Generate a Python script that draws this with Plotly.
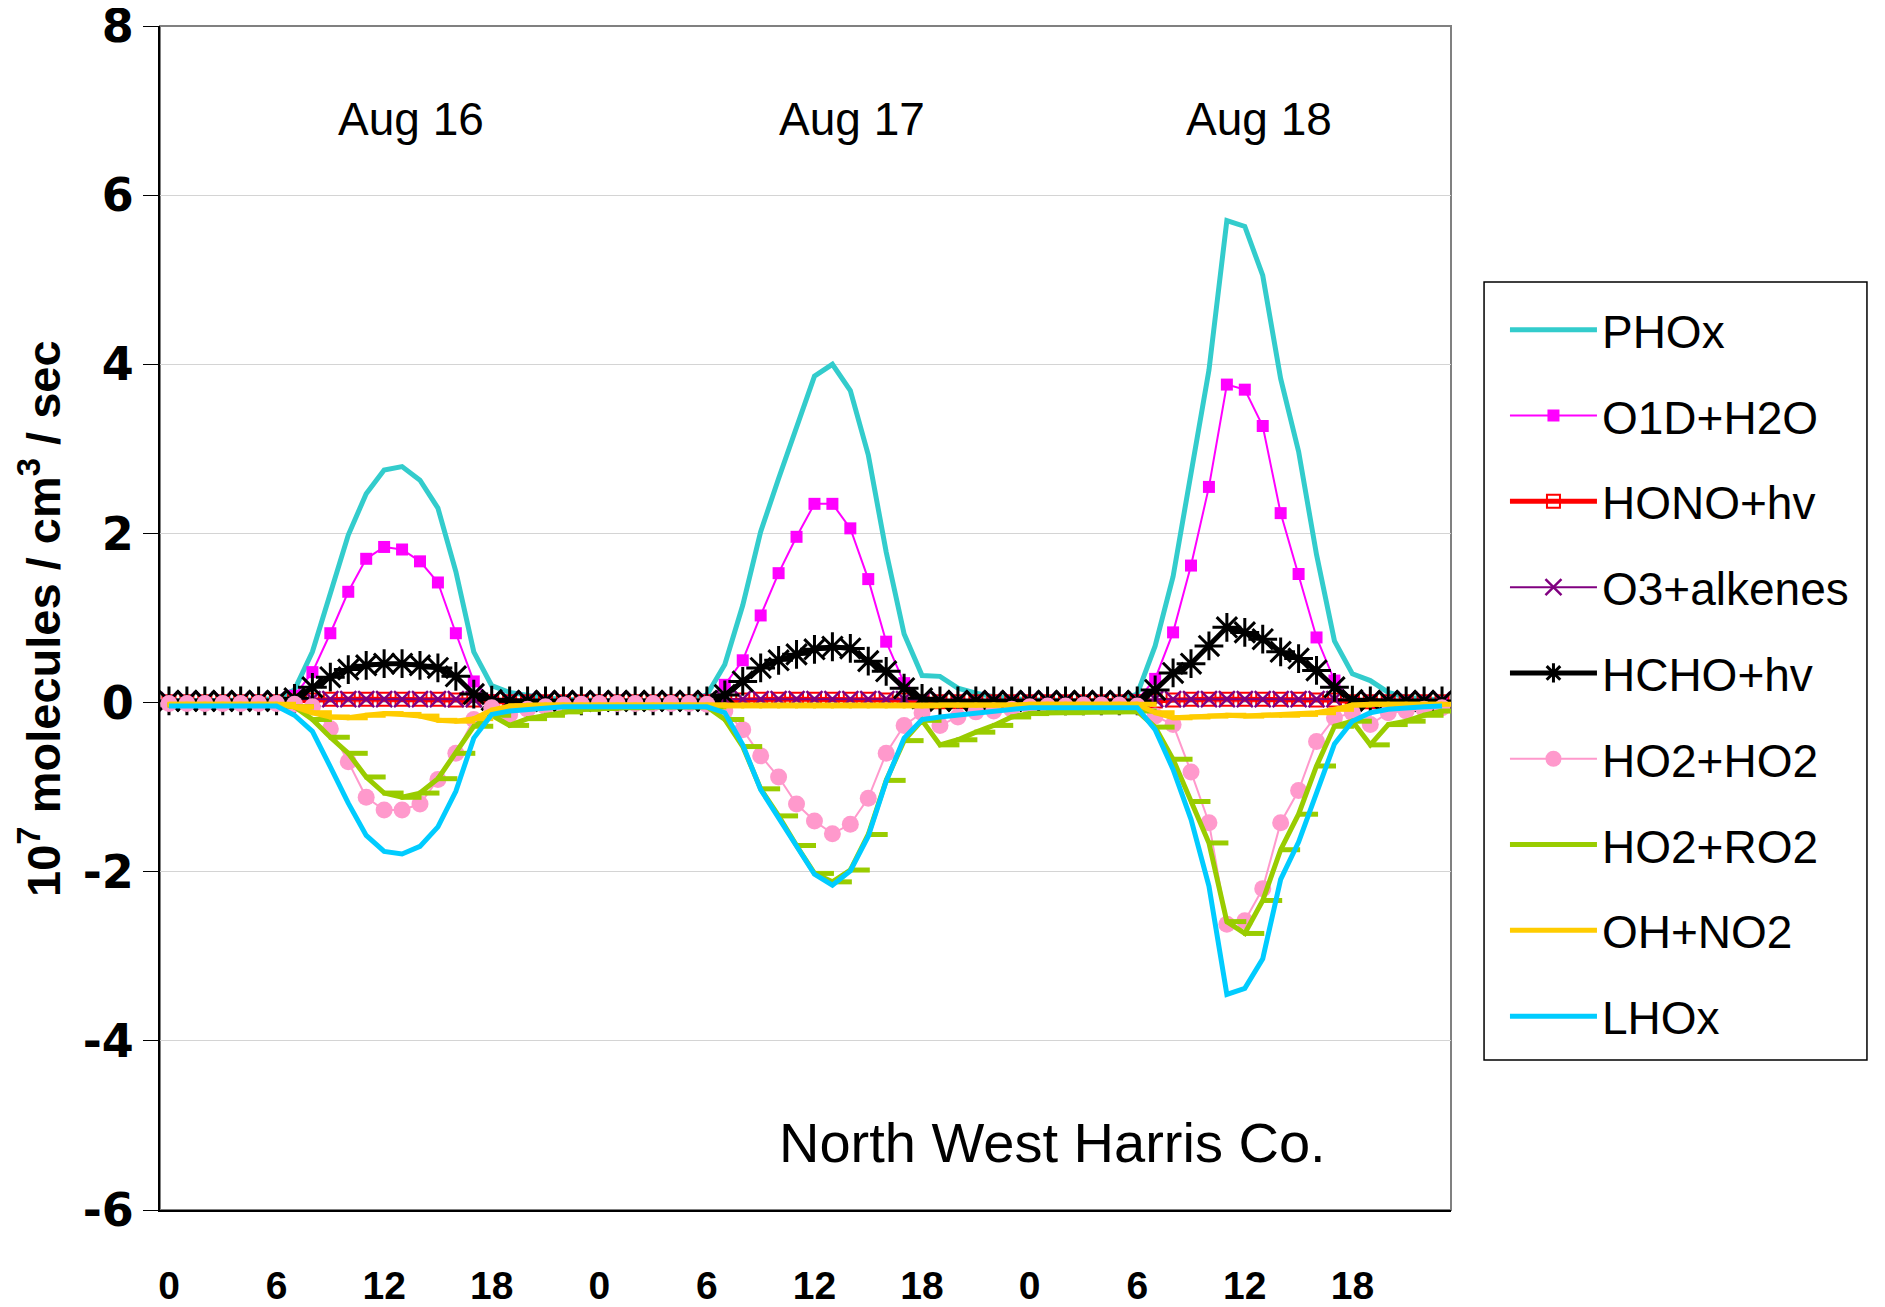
import plotly.graph_objects as go

# ---------------- data (hourly values, 3 days x 24 h) ----------------
day_labels = ["Aug 16", "Aug 17", "Aug 18"]
x_tick_text = ["0", "6", "12", "18", "0", "6", "12", "18", "0", "6", "12", "18"]
y_tick_vals = [-6, -4, -2, 0, 2, 4, 6, 8]
y_tick_text = ["-6", "-4", "-2", "0", "2", "4", "6", "8"]
n_hours = 72

phox = [0.02, 0.02, 0.02, 0.02, 0.02, 0.03, 0.05, 0.15, 0.60, 1.27, 1.98, 2.47, 2.75, 2.79, 2.63, 2.30, 1.55, 0.60, 0.20, 0.12, 0.08, 0.05, 0.04, 0.03,
        0.02, 0.02, 0.02, 0.02, 0.02, 0.03, 0.09, 0.45, 1.15, 2.02, 2.65, 3.27, 3.86, 4.00, 3.69, 2.93, 1.78, 0.81, 0.32, 0.31, 0.17, 0.11, 0.07, 0.05,
        0.03, 0.03, 0.02, 0.02, 0.02, 0.03, 0.10, 0.67, 1.49, 2.69, 3.93, 5.70, 5.63, 5.05, 3.83, 2.97, 1.75, 0.73, 0.34, 0.26, 0.12, 0.06, 0.04, 0.03]

o1d_h2o = [0, 0, 0, 0, 0, 0, 0.02, 0.08, 0.36, 0.82, 1.31, 1.70, 1.84, 1.81, 1.67, 1.42, 0.82, 0.25, 0.03, 0, 0, 0, 0, 0,
           0, 0, 0, 0, 0, 0, 0.03, 0.21, 0.50, 1.03, 1.53, 1.96, 2.35, 2.35, 2.06, 1.46, 0.72, 0.23, 0.02, 0, 0, 0, 0, 0,
           0, 0, 0, 0, 0, 0, 0.03, 0.28, 0.83, 1.62, 2.55, 3.76, 3.70, 3.27, 2.24, 1.52, 0.77, 0.26, 0.02, 0, 0, 0, 0, 0]

hono_hv = [0.01, 0.01, 0.01, 0.01, 0.01, 0.01, 0.01, 0.02, 0.03, 0.04, 0.04, 0.04, 0.04, 0.04, 0.04, 0.04, 0.03, 0.03, 0.01, 0.01, 0.01, 0.01, 0.01, 0.01,
           0.01, 0.01, 0.01, 0.01, 0.01, 0.01, 0.01, 0.02, 0.03, 0.04, 0.04, 0.04, 0.04, 0.04, 0.04, 0.04, 0.03, 0.03, 0.01, 0.01, 0.01, 0.01, 0.01, 0.01,
           0.01, 0.01, 0.01, 0.01, 0.01, 0.01, 0.01, 0.02, 0.03, 0.04, 0.04, 0.04, 0.04, 0.04, 0.04, 0.04, 0.03, 0.03, 0.01, 0.01, 0.01, 0.01, 0.01, 0.01]

o3_alkenes = [0.03, 0.03, 0.03, 0.03, 0.03, 0.03, 0.03, 0.04, 0.04, 0.04, 0.04, 0.04, 0.04, 0.04, 0.04, 0.04, 0.04, 0.04, 0.03, 0.03, 0.03, 0.03, 0.03, 0.03,
              0.03, 0.03, 0.03, 0.03, 0.03, 0.03, 0.03, 0.04, 0.04, 0.04, 0.04, 0.04, 0.04, 0.04, 0.04, 0.04, 0.04, 0.04, 0.03, 0.03, 0.03, 0.03, 0.03, 0.03,
              0.03, 0.03, 0.03, 0.03, 0.03, 0.03, 0.03, 0.04, 0.04, 0.04, 0.04, 0.04, 0.04, 0.04, 0.04, 0.04, 0.04, 0.04, 0.03, 0.03, 0.03, 0.03, 0.03, 0.03]

hcho_hv = [0.02, 0.02, 0.02, 0.02, 0.02, 0.02, 0.02, 0.05, 0.18, 0.30, 0.39, 0.44, 0.46, 0.46, 0.44, 0.41, 0.31, 0.10, 0.03, 0.02, 0.02, 0.02, 0.02, 0.02,
           0.02, 0.02, 0.02, 0.02, 0.02, 0.02, 0.02, 0.09, 0.25, 0.41, 0.50, 0.57, 0.63, 0.66, 0.64, 0.49, 0.37, 0.17, 0.05, 0.02, 0.02, 0.02, 0.02, 0.02,
           0.02, 0.02, 0.02, 0.02, 0.02, 0.02, 0.02, 0.15, 0.35, 0.46, 0.67, 0.89, 0.83, 0.75, 0.60, 0.52, 0.38, 0.18, 0.03, 0.02, 0.02, 0.02, 0.02, 0.02]

ho2_ho2 = [-0.01, -0.01, -0.01, -0.01, -0.01, -0.01, -0.01, -0.02, -0.05, -0.31, -0.70, -1.12, -1.27, -1.27, -1.20, -0.91, -0.60, -0.20, -0.06, -0.14, -0.08, -0.05, -0.03, -0.02,
           -0.01, -0.01, -0.01, -0.01, -0.01, -0.01, -0.02, -0.10, -0.32, -0.63, -0.88, -1.20, -1.40, -1.55, -1.44, -1.13, -0.60, -0.27, -0.12, -0.27, -0.17, -0.11, -0.10, -0.08,
           -0.05, -0.04, -0.04, -0.03, -0.03, -0.03, -0.04, -0.16, -0.26, -0.82, -1.42, -2.62, -2.58, -2.20, -1.42, -1.04, -0.46, -0.18, -0.12, -0.26, -0.12, -0.10, -0.08, -0.06]

ho2_ro2 = [-0.03, -0.03, -0.03, -0.03, -0.03, -0.03, -0.03, -0.05, -0.20, -0.41, -0.60, -0.88, -1.07, -1.12, -1.07, -0.90, -0.60, -0.28, -0.15, -0.27, -0.19, -0.15, -0.11, -0.08,
           -0.07, -0.06, -0.06, -0.05, -0.05, -0.05, -0.05, -0.20, -0.52, -1.02, -1.34, -1.69, -2.02, -2.12, -1.98, -1.56, -0.92, -0.45, -0.21, -0.50, -0.44, -0.35, -0.27, -0.17,
           -0.13, -0.12, -0.12, -0.11, -0.11, -0.11, -0.10, -0.29, -0.67, -1.17, -1.66, -2.59, -2.73, -2.34, -1.74, -1.32, -0.75, -0.28, -0.22, -0.50, -0.26, -0.22, -0.15, -0.10]

oh_no2 = [-0.02, -0.02, -0.02, -0.02, -0.02, -0.02, -0.02, -0.05, -0.12, -0.17, -0.18, -0.15, -0.13, -0.14, -0.16, -0.21, -0.22, -0.19, -0.09, -0.04, -0.03, -0.03, -0.03, -0.03,
          -0.03, -0.03, -0.03, -0.03, -0.03, -0.03, -0.03, -0.04, -0.04, -0.04, -0.04, -0.04, -0.04, -0.04, -0.04, -0.04, -0.04, -0.04, -0.04, -0.03, -0.03, -0.03, -0.03, -0.03,
          -0.02, -0.02, -0.02, -0.02, -0.02, -0.02, -0.02, -0.12, -0.18, -0.17, -0.16, -0.15, -0.16, -0.15, -0.15, -0.14, -0.12, -0.08, -0.03, -0.02, -0.02, -0.02, -0.02, -0.02]

lhox = [-0.04, -0.04, -0.04, -0.04, -0.04, -0.04, -0.04, -0.15, -0.34, -0.76, -1.19, -1.57, -1.76, -1.79, -1.70, -1.47, -1.05, -0.42, -0.14, -0.10, -0.08, -0.06, -0.05, -0.05,
        -0.05, -0.05, -0.05, -0.05, -0.05, -0.05, -0.05, -0.12, -0.50, -1.03, -1.37, -1.69, -2.03, -2.16, -1.99, -1.58, -0.93, -0.42, -0.20, -0.17, -0.15, -0.12, -0.10, -0.08,
        -0.06, -0.06, -0.06, -0.06, -0.06, -0.06, -0.06, -0.32, -0.79, -1.38, -2.17, -3.45, -3.38, -3.03, -2.09, -1.65, -1.06, -0.49, -0.22, -0.12, -0.08, -0.06, -0.05, -0.04]

# category centres (each hour is one category on a 0..72 axis)
x = [h + 0.5 for h in range(n_hours)]
x_dash = [h + 0.5 + 0.5 for h in range(n_hours)]   # Excel "dash" markers sit right of the point
x_tick_vals = [h + 0.5 for h in range(0, n_hours, 6)]

FONT = "Liberation Sans, Arial, sans-serif"

fig = go.Figure()

def add(name, y, color, width, marker=None):
    kw = dict(x=x, y=y, name=name, legendgroup=name,
              line=dict(color=color, width=width))
    if marker:
        kw["mode"] = "lines+markers"
        kw["marker"] = marker
    else:
        kw["mode"] = "lines"
    fig.add_trace(go.Scatter(**kw))

add("PHOx", phox, "#33CCCC", 5)
add("O1D+H2O", o1d_h2o, "#FF00FF", 2,
    dict(symbol="square", size=12, color="#FF00FF"))
add("HONO+hv", hono_hv, "#FF0000", 5,
    dict(symbol="square-open", size=13, color="#FF0000", line=dict(width=2, color="#FF0000")))
add("O3+alkenes", o3_alkenes, "#800080", 2,
    dict(symbol="x-thin-open", size=16, color="#800080", line=dict(width=2.5, color="#800080")))
add("HCHO+hv", hcho_hv, "#000000", 5,
    dict(symbol="asterisk-open", size=24, color="#000000", line=dict(width=3, color="#000000")))
add("HO2+HO2", ho2_ho2, "#FF99CC", 2,
    dict(symbol="circle", size=17, color="#FF99CC"))
add("HO2+RO2", ho2_ro2, "#99CC00", 5)
fig.add_trace(go.Scatter(x=x_dash, y=ho2_ro2, mode="markers", showlegend=False, legendgroup="HO2+RO2",
                         marker=dict(symbol="line-ew", size=15, color="#99CC00",
                                     line=dict(width=5, color="#99CC00")), hoverinfo="skip"))
add("OH+NO2", oh_no2, "#FFCC00", 5)
fig.add_trace(go.Scatter(x=x_dash, y=oh_no2, mode="markers", showlegend=False, legendgroup="OH+NO2",
                         marker=dict(symbol="line-ew", size=15, color="#FFCC00",
                                     line=dict(width=5, color="#FFCC00")), hoverinfo="skip"))
add("LHOx", lhox, "#00CCFF", 5)

# day annotations
day_pos = [14.0, 38.6, 61.3]
for lab, xp in zip(day_labels, day_pos):
    fig.add_annotation(x=xp, y=6.9, text=lab, showarrow=False,
                       font=dict(family=FONT, size=46, color="black"))

fig.add_annotation(x=49.8, y=-5.2, text="North West Harris Co.", showarrow=False,
                   font=dict(family=FONT, size=56, color="black"))

fig.add_annotation(xref="paper", yref="paper", x=-0.093, y=0.5,
                   xanchor="center", yanchor="middle",
                   text="<b>10<sup>7</sup> molecules / cm<sup>3</sup> / sec</b>",
                   textangle=-90, showarrow=False,
                   font=dict(family=FONT, size=47, color="black"))

# plot-area border
fig.add_shape(type="rect", xref="paper", yref="paper", x0=0, y0=0, x1=1, y1=1,
              line=dict(color="#808080", width=2), layer="below")
# legend frame
fig.add_shape(type="rect", xref="paper", yref="paper", x0=1.0256, y0=0.1267, x1=1.3222, y1=0.7838,
              line=dict(color="black", width=1.5), fillcolor="white", layer="below")

# the page body adds an 8 px margin at the top-left, so the figure is offset by 8 px
fig.update_layout(
    width=1869, height=1299,
    margin=dict(l=152, r=426, t=18, b=97, autoexpand=False),
    paper_bgcolor="white", plot_bgcolor="white",
    showlegend=True,
    legend=dict(x=1.0418, y=0.7742, xanchor="left", yanchor="top",
                font=dict(family=FONT, size=46, color="black"),
                borderwidth=0, bgcolor="rgba(0,0,0,0)",
                itemwidth=87, tracegroupgap=23),
    xaxis=dict(range=[0, 72], tickmode="array", tickvals=x_tick_vals, ticktext=x_tick_text,
               ticks="", showgrid=False, zeroline=False, automargin=False,
               showline=True, linecolor="black", linewidth=2,
               ticklabelstandoff=40, ticklabeloverflow="allow",
               tickfont=dict(family=FONT, size=39, color="black", weight="bold")),
    xaxis2=dict(range=[0, 72], overlaying="x", anchor="y", side="bottom",
                tickmode="array", tickvals=[0, 24, 48, 72], ticks="outside", ticklen=16,
                tickcolor="black", tickwidth=1, showticklabels=False, automargin=False,
                showgrid=True, gridcolor="#c8c8c8", gridwidth=1, griddash="dash",
                zeroline=False, showline=False),
    yaxis=dict(range=[-6, 8], tickmode="array", tickvals=y_tick_vals, ticktext=y_tick_text,
               ticks="outside", ticklen=15, tickcolor="black", tickwidth=1,
               showgrid=True, gridcolor="#d4d4d4", gridwidth=1, zeroline=False,
               showline=True, linecolor="black", linewidth=2, automargin=False,
               ticklabelstandoff=0, ticklabeloverflow="allow",
               tickfont=dict(family="DejaVu Sans, sans-serif", size=46, color="black", weight="bold")),
)

fig.write_html("out.html")
